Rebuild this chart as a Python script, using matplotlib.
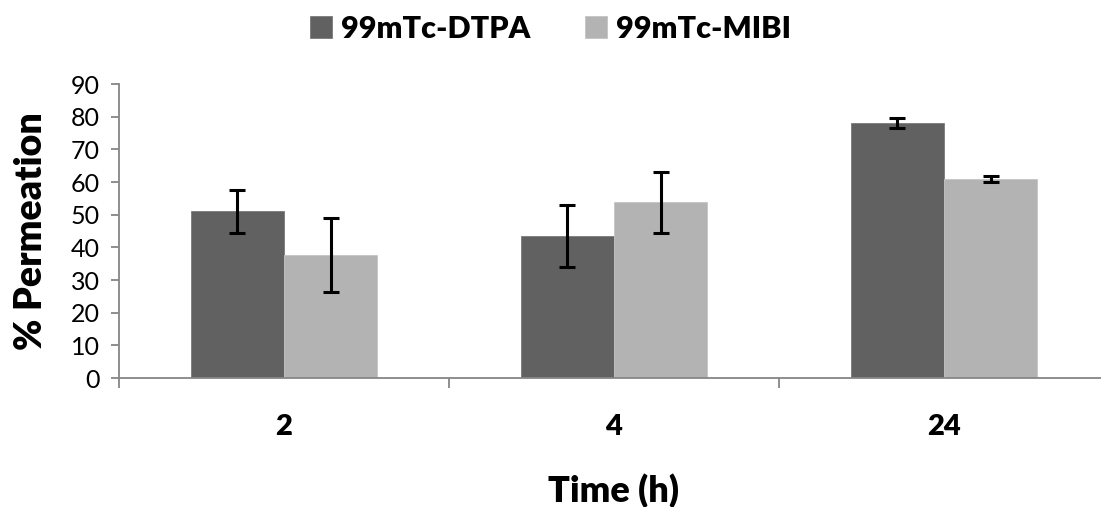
import numpy as np
import matplotlib.pyplot as plt
from matplotlib.ticker import FixedLocator, NullFormatter

plt.rcParams['font.family'] = ['Lato', 'DejaVu Sans']

# Data
times = ["2", "4", "24"]
series_names = ["99mTc-DTPA", "99mTc-MIBI"]
dtpa_means = [51.0, 43.4, 78.0]
dtpa_err = [6.6, 9.5, 1.5]
mibi_means = [37.6, 53.8, 60.9]
mibi_err = [11.3, 9.4, 1.0]

colors = ["#616161", "#b3b3b3"]
axis_color = "#868686"

W, H = 1101, 507
fig = plt.figure(figsize=(W / 100, H / 100), dpi=100)
# axes in pixel coordinates: left 119, top 84, bottom 378, category width 330
ax = fig.add_axes([119 / W, (H - 378) / H, 990 / W, 294 / H])

x = np.arange(len(times))
width = 0.283
err_style = dict(ecolor="black", elinewidth=2.2, capsize=6, capthick=2.2)
ax.bar(x - width / 2, dtpa_means, width, yerr=dtpa_err, color=colors[0],
       edgecolor="#7a7a7a", linewidth=0.6, label=series_names[0],
       error_kw=err_style)
ax.bar(x + width / 2, mibi_means, width, yerr=mibi_err, color=colors[1],
       edgecolor="#c4c4c4", linewidth=0.6, label=series_names[1],
       error_kw=err_style)

ax.set_xlim(-0.5, 2.5)
ax.set_ylim(0, 90)
ax.set_yticks(np.arange(0, 91, 10))
ax.tick_params(axis="y", labelsize=18, length=6, width=1.3, color=axis_color,
               pad=8)

ax.set_xticks(x)
ax.set_xticklabels(times, fontsize=21, fontweight="heavy")
ax.tick_params(axis="x", which="major", length=0, pad=26)
ax.xaxis.set_minor_locator(FixedLocator([-0.5, 0.5, 1.5]))
ax.xaxis.set_minor_formatter(NullFormatter())
ax.tick_params(axis="x", which="minor", length=7, width=1.3, color=axis_color)

for side in ["top", "right"]:
    ax.spines[side].set_visible(False)
for side in ["left", "bottom"]:
    ax.spines[side].set_color(axis_color)
    ax.spines[side].set_linewidth(1.3)

ax.set_ylabel("% Permeation", fontsize=27, fontweight="heavy", labelpad=16)
ax.set_xlabel("Time (h)", fontsize=26, fontweight="heavy", labelpad=24)

fig.legend(loc="upper center", bbox_to_anchor=(0.5, 1.025), ncol=2,
           frameon=False, prop={"size": 22, "weight": "heavy"},
           handlelength=0.7, handleheight=0.7, handletextpad=0.3,
           columnspacing=1.8)

fig.savefig("out.png", dpi=100)
